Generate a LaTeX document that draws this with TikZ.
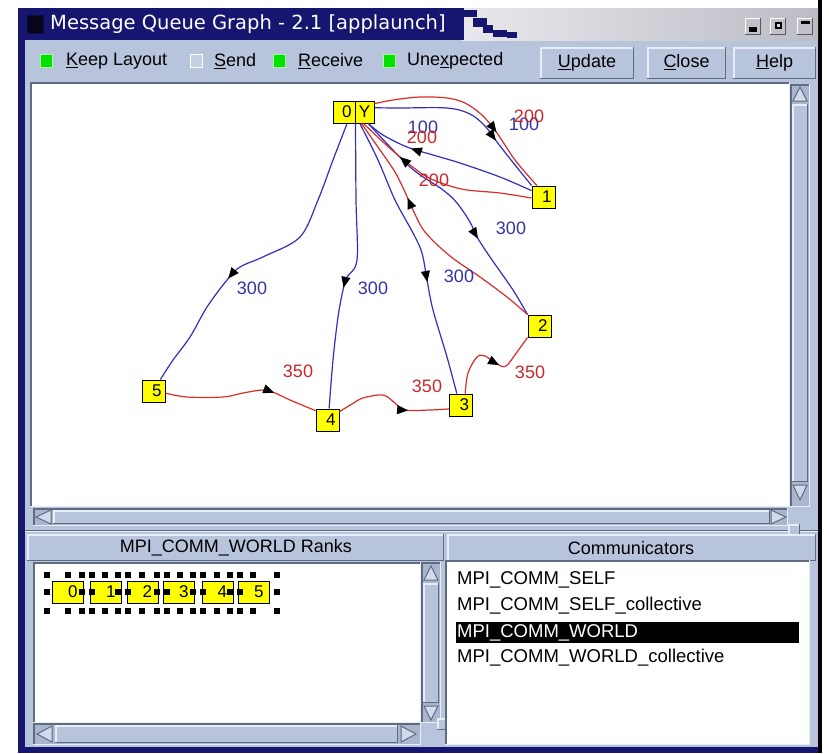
\documentclass[tikz,border=0pt]{standalone}
\usepackage{fontspec}
\setmainfont{Liberation Sans}
\newfontfamily\ttlfont{DejaVu Sans}
\usetikzlibrary{arrows.meta,decorations.markings}

\definecolor{winnavy}{RGB}{22,22,112}
\definecolor{uibg}{RGB}{184,196,220}
\definecolor{uilight}{RGB}{232,238,248}
\definecolor{uidark}{RGB}{96,106,128}
\definecolor{uitrough}{RGB}{170,182,206}
\definecolor{ttlgrey}{RGB}{214,214,224}
\definecolor{ttlpale}{RGB}{232,232,236}
\definecolor{ttldim}{RGB}{188,188,198}
\definecolor{edgeblue}{RGB}{48,48,190}
\definecolor{edgered}{RGB}{215,45,45}
\definecolor{lblblue}{RGB}{52,52,165}
\definecolor{lblred}{RGB}{200,42,42}
\definecolor{boxgreen}{RGB}{0,225,0}
\definecolor{nodeyellow}{RGB}{255,255,0}

% bevelled widgets: x1 y1 x2 y2 (y grows downwards)
\newcommand\uiraised[4]{%
  \fill[uibg] (#1,#2) rectangle (#3,#4);
  \draw[uilight,line width=1.5pt] (#1+0.75,#4) -- (#1+0.75,#2+0.75) -- (#3,#2+0.75);
  \draw[uidark,line width=1.5pt] (#1,#4-0.75) -- (#3-0.75,#4-0.75) -- (#3-0.75,#2);}
\newcommand\uisunken[5]{%
  \fill[#5] (#1,#2) rectangle (#3,#4);
  \draw[uidark,line width=1.5pt] (#1+0.75,#4) -- (#1+0.75,#2+0.75) -- (#3,#2+0.75);
  \draw[uilight,line width=1.5pt] (#1,#4-0.75) -- (#3-0.75,#4-0.75) -- (#3-0.75,#2);}
\newcommand\uitri[6]{%
  \filldraw[fill=uilight!55!uibg,draw=uidark,line width=1pt] (#1,#2) -- (#3,#4) -- (#5,#6) -- cycle;}

\tikzset{
  ui/.style={inner sep=0pt,font=\fontsize{18}{18}\selectfont},
  tbtext/.style={ui,anchor=west},
  gnode/.style={draw=black,line width=1pt,fill=nodeyellow,text width=16pt,align=right,
    inner xsep=3.5pt,inner ysep=0pt,minimum height=22pt,font=\fontsize{17}{17}\selectfont},
  rbox/.style={draw=black,line width=1pt,fill=nodeyellow,text width=19pt,align=right,
    inner xsep=6pt,inner ysep=0pt,minimum height=22pt,font=\fontsize{17}{17}\selectfont},
  edgeb/.style={draw=edgeblue,line width=1.2pt},
  edger/.style={draw=edgered,line width=1.2pt},
  lblb/.style={inner sep=0pt,text=lblblue,font=\fontsize{18}{18}\selectfont},
  lblr/.style={inner sep=0pt,text=lblred,font=\fontsize{18}{18}\selectfont},
  arrowat/.style={postaction={decorate,decoration={markings,
    mark=at position #1 with {\arrow[black]{Triangle[length=11pt,width=9pt]}}}}},
  listitem/.style={ui,anchor=west,font=\fontsize{18.5}{18.5}\selectfont},
}

\begin{document}
\begin{tikzpicture}[x=1pt,y=-1pt]
\useasboundingbox (0,0) rectangle (829,753);
\fill[white] (0,0) rectangle (829,753);

% window body and frame
\fill[uibg] (18,8) rectangle (820,753);
\fill[winnavy] (18,8) rectangle (25,753);
\fill[winnavy] (18,747) rectangle (820,753);
\fill[black] (818,0) rectangle (822,753);

% title bar: navy part, dithered step, pale gradient to the right
\fill[winnavy] (18,8) rectangle (461,40);
\shade[left color=ttlpale,right color=ttldim] (461,8) rectangle (818,40);
\foreach \dx/\dy/\dw/\dh in {461/8/3/32,463/10/14/7,473/18/14/9,483/25/10/8,493/30/14/7,507/32/10/6}
  \fill[winnavy] (\dx,\dy) rectangle (\dx+\dw,\dy+\dh);
\filldraw[fill=black!75!winnavy,draw=black!40!winnavy,line width=1pt] (27,15) rectangle (43,33);
\node[anchor=west,inner sep=0pt,text=white,font=\ttlfont\fontsize{19.5}{19.5}\selectfont]
  (title) at (50,24.5) {Message Queue Graph - 2.1 [applaunch]};

% title buttons
\foreach \bx in {745,770,797}{
  \fill[ttlgrey!90!black] (\bx,18) rectangle (\bx+16,35);
  \draw[white,line width=1.2pt] (\bx+0.6,35) -- (\bx+0.6,18.6) -- (\bx+16,18.6);
  \draw[black!65,line width=1.2pt] (\bx,34.4) -- (\bx+15.4,34.4) -- (\bx+15.4,18);}
\fill[black] (749,27) rectangle (757,32);
\fill[black] (775,22) rectangle (782,29);
\fill[ttlgrey] (777,24) rectangle (780,27);
\fill[black] (801,21) rectangle (810,24);

% toolbar
\filldraw[fill=boxgreen,draw=green!35!white,line width=1.5pt] (40.5,54.5) rectangle (52.5,67.5);
\node[tbtext] (kl) at (66,61) {\underline{K}eep Layout};
\filldraw[fill=uibg!80!white,draw=white,line width=1.5pt] (190.5,54.5) rectangle (202.5,67.5);
\node[tbtext] (sd) at (214,61) {\underline{S}end};
\filldraw[fill=boxgreen,draw=green!35!white,line width=1.5pt] (273.5,54.5) rectangle (285.5,67.5);
\node[tbtext] (rc) at (298,61) {\underline{R}eceive};
\filldraw[fill=boxgreen,draw=green!35!white,line width=1.5pt] (383.5,54.5) rectangle (395.5,67.5);
\node[tbtext] (ux) at (407,61) {Une\underline{x}pected};

\uiraised{540}{47}{634}{79}
\node[ui] (bupd) at (587,62.5) {\underline{U}pdate};
\uiraised{647}{47}{726}{79}
\node[ui] (bcls) at (686.5,62.5) {\underline{C}lose};
\uiraised{733}{47}{816}{79}
\node[ui] (bhlp) at (774.5,62.5) {\underline{H}elp};

% graph canvas with scroll bars
\uisunken{30}{82}{790}{507}{white}
\uisunken{790}{84}{810}{507}{uitrough}
\uiraised{792}{104}{808}{482}
\uitri{793}{101}{807}{101}{800}{87}
\uitri{793}{485}{807}{485}{800}{500}
\uisunken{33}{508}{788}{526}{uitrough}
\uiraised{53}{510}{770}{524}
\uitri{51}{510}{51}{524}{36}{517}
\uitri{771}{510}{771}{524}{786}{517}

% pane sash
\draw[uidark,line width=1pt] (25,530) -- (818,530);
\draw[uilight,line width=1pt] (25,531.5) -- (818,531.5);
\uiraised{788}{524}{800}{536}

% message queue graph
\node[gnode,text width=15pt] (n0) at (344,112) {0};
\node[gnode,text width=12pt,align=center,inner xsep=3.5pt] (n0y) at (364.5,112) {Y};
\node[gnode] (n1) at (543.5,197) {1};
\node[gnode] (n2) at (539.5,326) {2};
\node[gnode] (n3) at (461,405) {3};
\node[gnode] (n4) at (327.5,420) {4};
\node[gnode] (n5) at (153.5,391) {5};

% blue edges
\draw[edgeb,arrowat=0.63] plot[smooth,tension=0.55] coordinates
  {(n0.-75) (333,160) (318,200) (300,237) (265,256) (240,267) (227,280) (207,307) (190,337) (173,360) (n5.59)};
\draw[edgeb,arrowat=0.58] plot[smooth,tension=0.55] coordinates
  {(n0.south east) (356,200) (357,260) (347,277) (343,290) (338,317) (333,360) (n4.82)};
\draw[edgeb,arrowat=0.6] plot[smooth,tension=0.55] coordinates
  {(n0y.-112) (378,160) (395,200) (413,233) (422,253) (427,280) (433,310) (447,357) (n3.110)};
\draw[edgeb,arrowat=0.64] plot[smooth,tension=0.55] coordinates
  {(n0y.-72) (410,167) (443,190) (457,203) (470,222) (477,237) (490,257) (513,290) (n2.north west)};
\draw[edgeb,arrowat=0.7] plot[smooth,tension=0.55] coordinates
  {(n0y.23) (400,108) (447,108) (470,114) (485,126) (497,142) (515,165) (n1.136)};
\draw[edgeb,arrowat=0.72] plot[smooth,tension=0.55] coordinates
  {(n1.152) (500,177) (460,163) (433,155) (407,147) (383,135) (n0y.-72)};

% red edges
\draw[edger,arrowat=0.67] plot[smooth,tension=0.55] coordinates
  {(n0y.40) (393,100) (420,97) (447,98) (465,103) (482,115) (497,133) (515,160) (n1.120)};
\draw[edger,arrowat=0.74] plot[smooth,tension=0.55] coordinates
  {(n1.185) (500,193) (467,190) (447,185) (427,177) (410,165) (400,157) (383,142) (n0y.-95)};
\draw[edger,arrowat=0.66] plot[smooth,tension=0.55] coordinates
  {(n2.north west) (507,297) (480,277) (450,256) (425,232) (413,210) (405,192) (395,172) (380,150) (n0y.-105)};
\draw[edger,arrowat=0.71] plot[smooth,tension=0.55] coordinates
  {(n5.-10) (187,397) (223,397) (243,393) (263,390) (275,393) (290,400) (n4.142)};
\draw[edger,arrowat=0.655] plot[smooth,tension=0.55] coordinates
  {(n4.35) (352,404) (363,398) (383,395) (395,403) (405,410) (430,410) (n3.198)};
\draw[edger,arrowat=0.6] plot[smooth,tension=0.55] coordinates
  {(n3.70) (468,373) (477,357) (485,356) (497,364) (506,366) (517,352) (n2.south west)};

% edge labels
\node[lblb] (lb1) at (423,127) {100};
\node[lblb] (lb2) at (524,124) {100};
\node[lblb] (lb3) at (252,288) {300};
\node[lblb] (lb4) at (373,288) {300};
\node[lblb] (lb5) at (459,276) {300};
\node[lblb] (lb6) at (511,228) {300};
\node[lblr] (lr1) at (422,137) {200};
\node[lblr] (lr2) at (529,116) {200};
\node[lblr] (lr3) at (434,180) {200};
\node[lblr] (lr4) at (298,371) {350};
\node[lblr] (lr5) at (427,386) {350};
\node[lblr] (lr6) at (530,372) {350};

% lower panes: headers
\uiraised{27}{534}{444}{561}
\uiraised{447}{534}{816}{561}
\node[ui] (hdr1) at (236,548) {MPI\_COMM\_WORLD Ranks};
\node[ui] (hdr2) at (631,548) {Communicators};

% ranks pane
\uisunken{33}{562}{421}{723}{white}
\uisunken{421}{562}{441}{723}{uitrough}
\uiraised{423}{583}{439}{703}
\uitri{424}{580}{438}{580}{431}{566}
\uitri{424}{706}{438}{706}{431}{720}
\uisunken{33}{723}{421}{745}{uitrough}
\uiraised{55}{725}{398}{743}
\uitri{52}{726}{52}{742}{37}{734}
\uitri{401}{726}{401}{742}{416}{734}
\uiraised{437}{718}{449}{730}

\foreach \hx in {47,68,82,92,105,118,128,142,157,167,180,193,203,217,230,240,253,277}{
  \fill[black] (\hx-3,572) rectangle (\hx+3,578);
  \fill[black] (\hx-3,608) rectangle (\hx+3,614);}
\node[rbox] (r0) at (68,592) {0};
\node[rbox] (r1) at (106,592) {1};
\node[rbox] (r2) at (142.5,592) {2};
\node[rbox] (r3) at (179,592) {3};
\node[rbox] (r4) at (217.5,592) {4};
\node[rbox] (r5) at (254,592) {5};
\foreach \hx in {47,82,92,118,128,157,167,193,203,230,240,277}
  \fill[black] (\hx-3,589) rectangle (\hx+3,595);

% communicators pane
\uisunken{445}{560}{810}{745}{white}
\fill[black] (456,622) rectangle (799,643);
\node[listitem] (c1) at (457,580) {MPI\_COMM\_SELF};
\node[listitem] (c2) at (457,606) {MPI\_COMM\_SELF\_collective};
\node[listitem,text=white] (c3) at (457,632.5) {MPI\_COMM\_WORLD};
\node[listitem] (c4) at (457,658) {MPI\_COMM\_WORLD\_collective};
\end{tikzpicture}
\end{document}
